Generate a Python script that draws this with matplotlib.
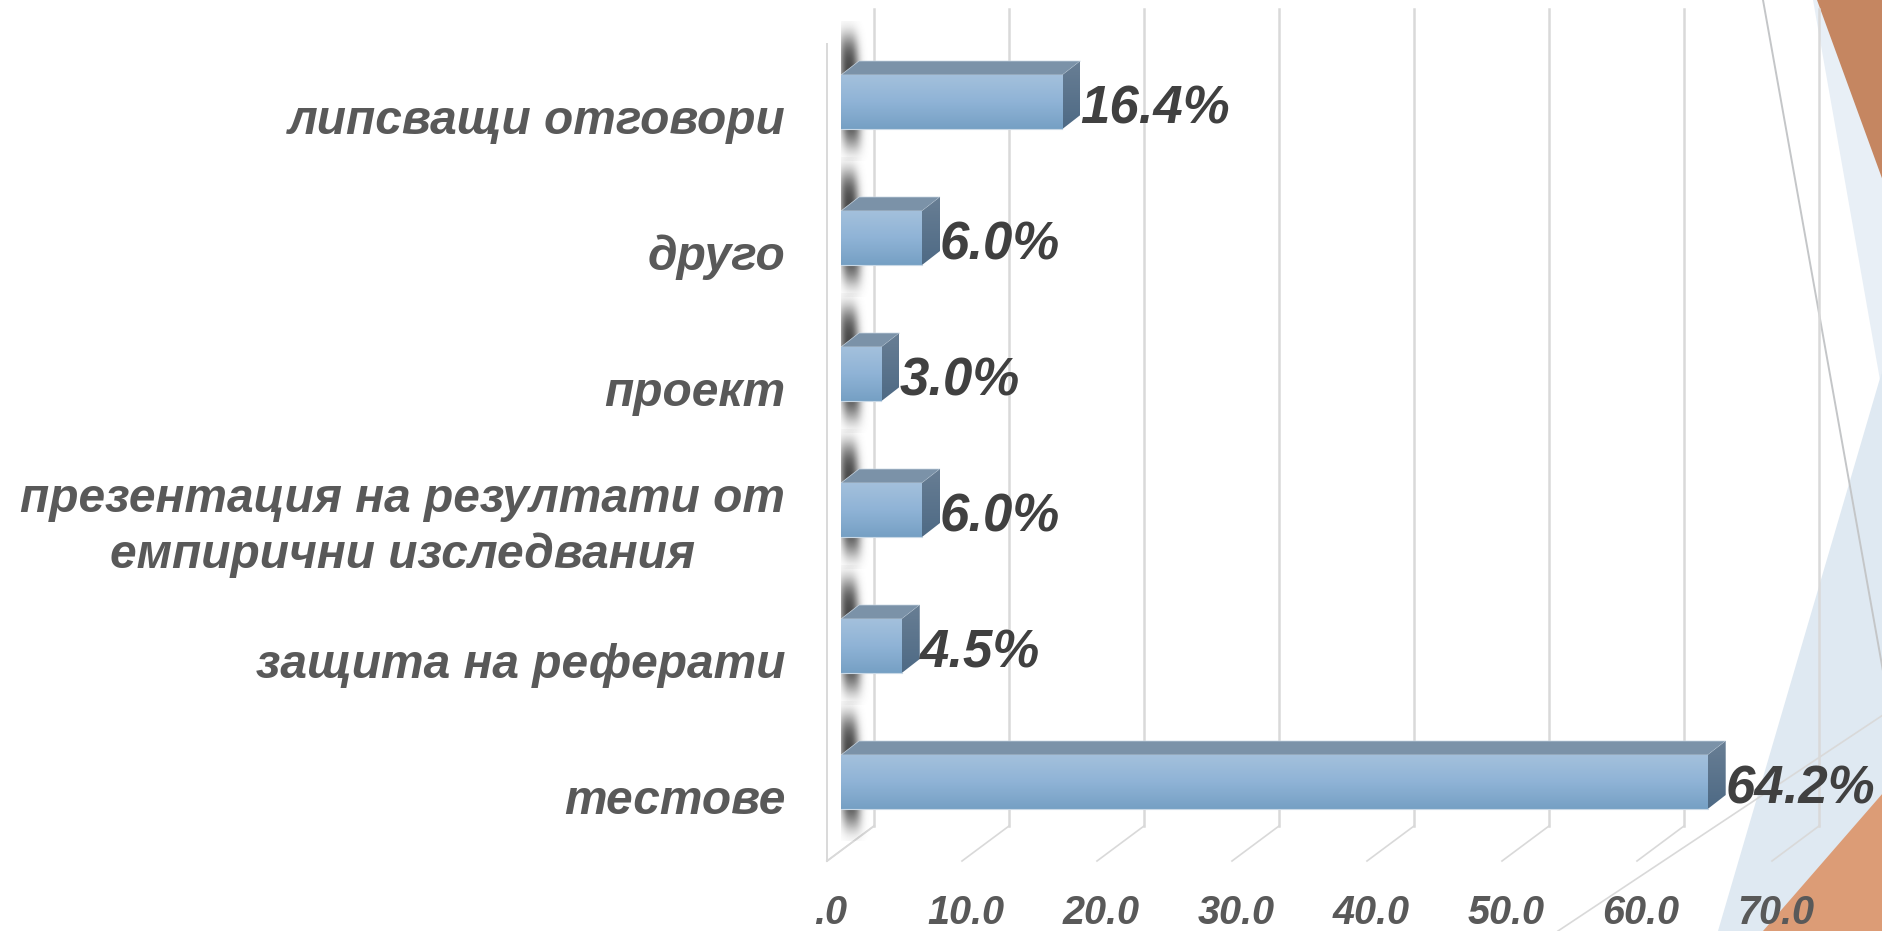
import numpy as np
import matplotlib
matplotlib.use('Agg')
import matplotlib.pyplot as plt
from matplotlib.colors import LinearSegmentedColormap
from matplotlib.patches import Polygon
from matplotlib.transforms import Affine2D, ScaledTranslation

# data, bottom bar first
categories = ['тестове', 'защита на реферати',
              'презентация на резултати от\nемпирични изследвания',
              'проект', 'друго', 'липсващи отговори']
values = [64.2, 4.5, 6.0, 3.0, 6.0, 16.4]
value_labels = ['64.2%', '4.5%', '6.0%', '3.0%', '6.0%', '16.4%']
x_ticks = [0, 10, 20, 30, 40, 50, 60, 70]
x_tick_labels = ['.0', '10.0', '20.0', '30.0', '40.0', '50.0', '60.0', '70.0']

W, H = 1883, 931
plt.rcParams['font.family'] = ['Liberation Sans', 'DejaVu Sans']

fig = plt.figure(figsize=(W / 100, H / 100), dpi=100, facecolor='white')

# pixels of the reference -> figure
px = Affine2D().scale(1 / W, -1 / H).translate(0, 1) + fig.transFigure

# slide background shapes
fig.add_artist(Polygon([(1813, 0), (1883, 0), (1883, 368), (1880, 380)], color='#e8eff6', lw=0, transform=px, zorder=-5))
fig.add_artist(Polygon([(1883, 368), (1883, 931), (1718, 931)], color='#dfe9f2', lw=0, transform=px, zorder=-5))
fig.add_artist(Polygon([(1817, 0), (1883, 0), (1883, 181)], color='#c58661', lw=0, transform=px, zorder=-4))
fig.add_artist(Polygon([(1763, 931), (1883, 793), (1883, 931)], color='#dc9c76', lw=0, transform=px, zorder=-4))
fig.add_artist(plt.Line2D([1763, 1883], [0, 671], color='#c4c6c8', lw=1.4, transform=px, zorder=-3))
fig.add_artist(plt.Line2D([1558, 1883], [931, 715], color='#d9d9d9', lw=1.2, transform=px, zorder=-3))

# axes box: value 0 at x=841, value 70 at x=1786, first bar centre at y=782
PX_X = 13.5
PX_Y = 136.0
left, right, top, bottom = 841, 841 + 70 * PX_X, 20, 861
ax = fig.add_axes([left / W, 1 - bottom / H, (right - left) / W, (bottom - top) / H])
ax.patch.set_visible(False)
ax.set_xlim(0, 70)
ax.set_ylim((782 - bottom) / PX_Y, (782 - top) / PX_Y)
ax.set_autoscale_on(False)
for s in ax.spines.values():
    s.set_visible(False)


def dx(p):
    return p / PX_X


def dy(p):
    return p / PX_Y


# back wall grid and floor lines
for t in x_ticks:
    ax.plot([t + dx(33)] * 2, [dy(782 - 9), dy(782 - 826)], color='#d9d9d9', lw=1.8, clip_on=False, zorder=1)
    ax.plot([t + dx(33), t + dx(-14)], [dy(782 - 826), dy(782 - 861)], color='#d9d9d9', lw=1.2, clip_on=False, zorder=1)
ax.plot([dx(-14)] * 2, [dy(782 - 44), dy(782 - 861)], color='#d9d9d9', lw=1.4, clip_on=False, zorder=1)
ax.plot([dx(-14), dx(33)], [dy(782 - 861), dy(782 - 826)], color='#d9d9d9', lw=1.2, clip_on=False, zorder=1)

front_cmap = LinearSegmentedColormap.from_list('front', ['#a3c0dc', '#8fb3d6', '#76a0c4'])
side_cmap = LinearSegmentedColormap.from_list('side', ['#687e94', '#4e6a85'])
ramp = np.linspace(0, 1, 64).reshape(-1, 1)
half = dy(27)
depth_x, depth_y = dx(18), dy(14)

# blurred shadow behind the start of each bar
yy, xx = np.mgrid[-1:1:160j, -1:1:50j]
xc = xx - 0.12 * yy
shadow = np.zeros(yy.shape + (4,))
shadow[..., :3] = 0.27
shadow[..., 3] = 0.98 * np.exp(-np.abs(xc / 0.5) ** 2.5) * np.exp(-np.abs(yy / 0.8) ** 5)

for i, v in enumerate(values):
    ax.imshow(shadow, extent=[dx(-11), dx(29), i + dy(-59), i + dy(81)], aspect='auto', zorder=2, interpolation='bilinear')
    # top face
    ax.add_patch(Polygon([(0, i + half), (depth_x, i + half + depth_y), (v + depth_x, i + half + depth_y), (v, i + half)],
                         fc='#7b92a8', ec='#c8d6e2', lw=0.5, zorder=3))
    # side face
    side = Polygon([(v, i - half), (v, i + half), (v + depth_x, i + half + depth_y), (v + depth_x, i - half + depth_y)],
                   fc='none', ec='none', transform=ax.transData)
    ax.add_patch(side)
    im = ax.imshow(ramp, cmap=side_cmap, extent=[v, v + depth_x, i - half, i + half + depth_y], aspect='auto', zorder=3)
    im.set_clip_path(side)
    # front face
    ax.imshow(ramp, cmap=front_cmap, extent=[0, v, i - half, i + half], aspect='auto', zorder=4)
    ax.plot([0, v], [i - half, i - half], color='#c8d8e6', lw=0.8, zorder=5)
    ax.annotate(value_labels[i], (v, i), xytext=(18, -8), textcoords='offset pixels', ha='left', va='center',
                fontsize=38, fontweight='bold', fontstyle='italic', color='#404040', zorder=6)

ax.set_ylim((782 - bottom) / PX_Y, (782 - top) / PX_Y)
ax.set_xlim(0, 70)

ax.set_yticks(range(len(categories)))
ax.set_yticklabels(categories, fontsize=34.5, fontweight='bold', fontstyle='italic', color='#595959',
                   multialignment='center', linespacing=1.3)
ax.set_xticks(x_ticks)
ax.set_xticklabels(x_tick_labels, fontsize=28.5, fontweight='bold', fontstyle='italic', color='#595959')
ax.tick_params(axis='both', length=0)
ax.tick_params(axis='y', pad=40)
ax.tick_params(axis='x', pad=24)
for lab, name in zip(ax.get_yticklabels(), categories):
    shift = -7 if '\n' in name else -14
    lab.set_transform(lab.get_transform() + ScaledTranslation(0, shift / 100, fig.dpi_scale_trans))
for lab in ax.get_xticklabels():
    lab.set_transform(lab.get_transform() + ScaledTranslation(-10 / 100, 0, fig.dpi_scale_trans))

plt.savefig('out.png', dpi=100)
